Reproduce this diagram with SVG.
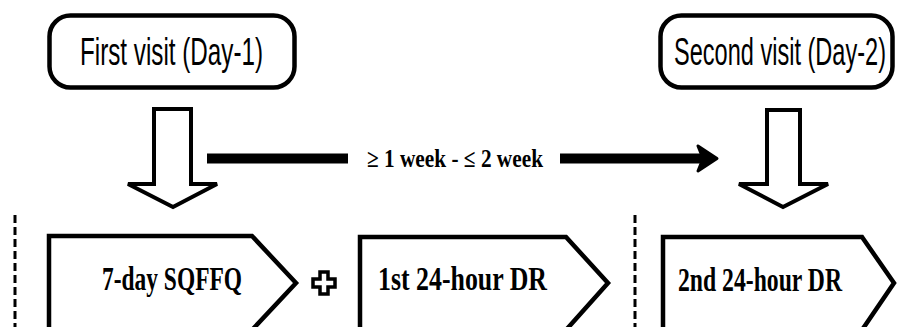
<svg xmlns="http://www.w3.org/2000/svg" width="897" height="327" viewBox="0 0 897 327">
<style>
.box{fill:#fff;stroke:#000;stroke-width:4.5;stroke-linejoin:miter}
.visit{font-family:"Liberation Sans Narrow","Liberation Sans","DejaVu Sans Condensed",sans-serif;font-size:39px;fill:#000}
.step{font-family:"Liberation Serif","Times New Roman",serif;font-weight:bold;font-size:33px;fill:#000}
.hollow{fill:#fff;stroke:#000;stroke-width:4;stroke-linejoin:miter}
.dash{stroke:#000;stroke-width:3;stroke-dasharray:8 4;fill:none}
.lbl{font-family:"Liberation Serif","Times New Roman",serif;font-weight:bold;font-size:25px;fill:#000}
</style>
<rect width="897" height="327" fill="#fff"/>
<g id="first-visit">
<rect class="box" x="49.5" y="15.5" width="245" height="72" rx="21" ry="21"/>
<text class="visit" x="80" y="65" textLength="183" lengthAdjust="spacingAndGlyphs">First visit (Day-1)</text>
</g>
<g id="second-visit">
<rect class="box" x="660.5" y="15.5" width="232" height="72" rx="21" ry="21"/>
<text class="visit" x="674" y="65" textLength="212" lengthAdjust="spacingAndGlyphs">Second visit (Day-2)</text>
</g>
<g id="sqffq">
<path class="box" d="M49,236 H252 L296,283 L252,330 H49 Z"/>
<text class="step" x="102" y="290" textLength="140" lengthAdjust="spacingAndGlyphs">7-day SQFFQ</text>
</g>
<g id="plus">
<path fill="#fff" stroke="#000" stroke-width="3.5" stroke-linejoin="miter" d="M320,272 H328 V279 H335 V287 H328 V294 H320 V287 H313 V279 H320 Z"/>
</g>
<g id="dr1">
<path class="box" d="M360,237 H566 L608,283 L566,330 H360 Z"/>
<text class="step" x="378" y="290" textLength="169" lengthAdjust="spacingAndGlyphs">1st 24-hour DR</text>
</g>
<g id="dr2">
<path class="box" d="M663,237 H862 L894,283 L862,330 H663 Z"/>
<text class="step" x="678" y="291" textLength="164" lengthAdjust="spacingAndGlyphs">2nd 24-hour DR</text>
</g>
<g id="connectors">
<path class="hollow" d="M154,109 H191 V184 H217 L173,207 L128,184 H154 Z"/>
<path class="hollow" d="M767,110 H800 V184 H828 L783,207 L739,184 H767 Z"/>
<rect x="207" y="153.5" width="141" height="10" fill="#000"/>
<rect x="560" y="153.5" width="142" height="10" fill="#000"/>
<polygon points="698,146 717,158.5 698,171 703,158.5" fill="#000" stroke="#000" stroke-width="3" stroke-linejoin="round"/>
<text class="lbl" x="367" y="167" textLength="176" lengthAdjust="spacingAndGlyphs">≥ 1 week -  ≤ 2 week</text>
<line class="dash" x1="15" y1="215" x2="15" y2="327"/>
<line class="dash" x1="635" y1="215" x2="635" y2="327"/>
</g>
</svg>
